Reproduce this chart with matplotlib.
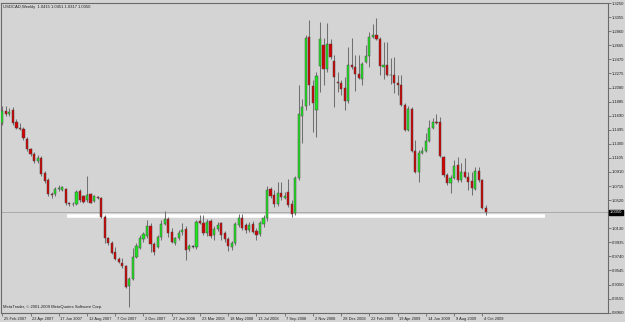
import matplotlib
matplotlib.use("Agg")
import matplotlib.pyplot as plt
import matplotlib.transforms as mtransforms
import numpy as np

TITLE = "USDCAD,Weekly  1.0415 1.0451 1.0317 1.0350"
COPYRIGHT = "MetaTrader, \u00a9 2001-2009 MetaQuotes Software Corp."

# weekly bars, 25 Feb 2007 .. 11 Oct 2009
OPEN = [
    1.1582, 1.1752, 1.1720, 1.1775, 1.1604, 1.1513, 1.1499, 1.1361, 1.1222, 1.1157,
    1.1065, 1.1098, 1.0890, 1.0798, 1.0600, 1.0604, 1.0673, 1.0659, 1.0680, 1.0475,
    1.0470, 1.0466, 1.0646, 1.0576, 1.0521, 1.0604, 1.0511, 1.0567, 1.0545, 1.0290,
    0.9991, 0.9922, 0.9798, 0.9705, 0.9654, 0.9608, 0.9336, 0.9424, 0.9737, 0.9861,
    0.9982, 1.0027, 1.0166, 0.9913, 0.9875, 1.0005, 1.0189, 1.0254, 1.0083, 0.9922,
    0.9991, 1.0074, 1.0120, 0.9848, 0.9878, 0.9867, 1.0235, 1.0203, 1.0069, 1.0231,
    1.0037, 1.0120, 1.0199, 1.0061, 0.9978, 0.9867, 0.9931, 1.0175, 1.0276, 1.0175,
    1.0106, 1.0185, 1.0096, 1.0051, 1.0189, 1.0272, 1.0673, 1.0590, 1.0466, 1.0618,
    1.0553, 1.0628, 1.0466, 1.0337, 1.0821, 1.1683, 1.1821, 1.2779, 1.2098, 1.1766,
    1.2378, 1.2665, 1.2342, 1.2688, 1.2448, 1.2153, 1.2149, 1.2070, 1.1894, 1.2388,
    1.2360, 1.2273, 1.2204, 1.2434, 1.2517, 1.2779, 1.2813, 1.2757, 1.2370, 1.2388,
    1.2259, 1.2259, 1.2149, 1.2121, 1.1835, 1.1489, 1.1789, 1.1199, 1.0912, 1.1175,
    1.1203, 1.1341, 1.1526, 1.1604, 1.1596, 1.1120, 1.0867, 1.0752, 1.0829, 1.1005,
    1.0798, 1.0908, 1.0843, 1.0784, 1.0673, 1.0922, 1.0798, 1.0415,
]
HIGH = [
    1.1821, 1.1821, 1.1793, 1.1807, 1.1641, 1.1586, 1.1531, 1.1392, 1.1240, 1.1185,
    1.1143, 1.1130, 1.0922, 1.0825, 1.0636, 1.0701, 1.0728, 1.0722, 1.0694, 1.0500,
    1.0493, 1.0659, 1.0669, 1.0597, 1.0853, 1.0625, 1.0594, 1.0583, 1.0567, 1.0307,
    1.0013, 0.9954, 0.9875, 0.9733, 0.9715, 0.9622, 0.9456, 0.9853, 0.9922, 1.0037,
    1.0083, 1.0244, 1.0199, 0.9944, 1.0037, 1.0244, 1.0369, 1.0290, 1.0130, 1.0013,
    1.0106, 1.0199, 1.0166, 0.9913, 0.9899, 1.0244, 1.0314, 1.0314, 1.0258, 1.0258,
    1.0161, 1.0217, 1.0217, 1.0092, 1.0009, 0.9954, 1.0217, 1.0327, 1.0327, 1.0203,
    1.0217, 1.0231, 1.0134, 1.0231, 1.0314, 1.0715, 1.0705, 1.0659, 1.0770, 1.0770,
    1.0632, 1.0811, 1.0521, 1.0853, 1.2111, 1.1918, 1.2810, 1.3010, 1.2181, 1.2291,
    1.2987, 1.2766, 1.2975, 1.2757, 1.2526, 1.2291, 1.2181, 1.2222, 1.2641, 1.2766,
    1.2526, 1.2526, 1.2430, 1.2665, 1.2849, 1.2965, 1.3048, 1.2775, 1.2710, 1.2706,
    1.2485, 1.2503, 1.2250, 1.2250, 1.1862, 1.1821, 1.1814, 1.1351, 1.1213, 1.1254,
    1.1448, 1.1627, 1.1655, 1.1720, 1.1669, 1.1130, 1.0894, 1.0867, 1.1074, 1.1120,
    1.1033, 1.1098, 1.0912, 1.0912, 1.0982, 1.0982, 1.0818, 1.0451,
]
LOW = [
    1.1558, 1.1683, 1.1683, 1.1558, 1.1503, 1.1489, 1.1351, 1.1203, 1.1130, 1.1037,
    1.1033, 1.0853, 1.0756, 1.0583, 1.0545, 1.0576, 1.0646, 1.0646, 1.0452, 1.0438,
    1.0442, 1.0452, 1.0500, 1.0480, 1.0493, 1.0473, 1.0500, 1.0531, 1.0268, 0.9926,
    0.9899, 0.9774, 0.9691, 0.9643, 0.9576, 0.9300, 0.9045, 0.9415, 0.9715, 0.9843,
    0.9944, 0.9991, 0.9806, 0.9760, 0.9853, 0.9968, 1.0168, 1.0013, 0.9922, 0.9899,
    0.9968, 1.0037, 0.9691, 0.9816, 0.9857, 0.9843, 1.0182, 1.0037, 1.0023, 0.9996,
    0.9968, 1.0092, 0.9968, 0.9940, 0.9816, 0.9830, 0.9899, 1.0148, 1.0106, 1.0065,
    1.0078, 1.0065, 0.9968, 1.0023, 1.0148, 1.0231, 1.0545, 1.0424, 1.0438, 1.0521,
    1.0535, 1.0424, 1.0286, 1.0314, 1.0805, 1.1309, 1.1766, 1.1835, 1.1461, 1.1392,
    1.2015, 1.2111, 1.2291, 1.2481, 1.1807, 1.2015, 1.1973, 1.1766, 1.1862, 1.2340,
    1.2029, 1.2194, 1.2111, 1.2416, 1.2365, 1.2761, 1.2734, 1.2250, 1.2204, 1.2236,
    1.2125, 1.2001, 1.1973, 1.1821, 1.1475, 1.1475, 1.1185, 1.0894, 1.0774, 1.1157,
    1.1185, 1.1323, 1.1503, 1.1572, 1.1116, 1.0839, 1.0728, 1.0622, 1.0811, 1.0770,
    1.0777, 1.0825, 1.0659, 1.0590, 1.0659, 1.0770, 1.0390, 1.0317,
]
CLOSE = [
    1.1756, 1.1720, 1.1748, 1.1590, 1.1526, 1.1503, 1.1374, 1.1222, 1.1157, 1.1065,
    1.1098, 1.0881, 1.0788, 1.0604, 1.0590, 1.0673, 1.0687, 1.0697, 1.0475, 1.0466,
    1.0461, 1.0636, 1.0521, 1.0493, 1.0586, 1.0484, 1.0576, 1.0549, 1.0282, 1.0000,
    0.9922, 0.9792, 0.9705, 0.9659, 0.9608, 0.9322, 0.9424, 0.9737, 0.9889, 1.0000,
    1.0047, 1.0166, 0.9913, 0.9806, 1.0005, 1.0189, 1.0254, 1.0061, 0.9933, 0.9991,
    1.0069, 1.0106, 0.9830, 0.9885, 0.9872, 1.0221, 1.0199, 1.0069, 1.0221, 1.0023,
    1.0116, 1.0179, 1.0037, 0.9978, 0.9885, 0.9922, 1.0185, 1.0276, 1.0138, 1.0106,
    1.0175, 1.0083, 1.0037, 1.0199, 1.0272, 1.0659, 1.0581, 1.0461, 1.0622, 1.0569,
    1.0581, 1.0452, 1.0323, 1.0821, 1.1720, 1.1811, 1.2771, 1.2121, 1.1867, 1.2240,
    1.2757, 1.2342, 1.2688, 1.2503, 1.2226, 1.2145, 1.2066, 1.1894, 1.2388, 1.2360,
    1.2273, 1.2218, 1.2412, 1.2513, 1.2779, 1.2813, 1.2757, 1.2374, 1.2398, 1.2259,
    1.2255, 1.2143, 1.2121, 1.1835, 1.1489, 1.1789, 1.1199, 1.0912, 1.1175, 1.1203,
    1.1341, 1.1526, 1.1604, 1.1590, 1.1130, 1.0867, 1.0752, 1.0829, 1.0995, 1.0798,
    1.0912, 1.0846, 1.0774, 1.0683, 1.0926, 1.0798, 1.0406, 1.0350,
]

DATE_LABELS = ["25 Feb 2007", "22 Apr 2007", "17 Jun 2007", "12 Aug 2007", "7 Oct 2007",
               "2 Dec 2007", "27 Jan 2008", "23 Mar 2008", "18 May 2008", "13 Jul 2008",
               "7 Sep 2008", "2 Nov 2008", "28 Dec 2008", "22 Feb 2009", "19 Apr 2009",
               "14 Jun 2009", "9 Aug 2009", "4 Oct 2009"]
DATE_STEP = 8  # one label every 8 weeks

PRICE_TICKS = [1.3250, 1.3055, 1.2860, 1.2665, 1.2470, 1.2275, 1.2080, 1.1885, 1.1690,
               1.1495, 1.1300, 1.1105, 1.0910, 1.0715, 1.0520, 1.0130, 0.9935, 0.9740,
               0.9545, 0.9350, 0.9155, 0.8960]
LAST_PRICE = 1.0350
SUPPORT = 1.0303            # hand-drawn white line
SUPPORT_SPAN = (18.3, 153.7)  # in bar units

BG = "#D4D4D4"; FRAME = "#6A6A6A"; INK = "#1E1E1E"
C_UP = "#1EE61E"; C_DN = "#D40000"; WICK = "#707070"; EDGE = "#4A4A4A"

plt.rcParams["font.family"] = ["Liberation Sans", "DejaVu Sans"]

W, H = 625, 322
fig = plt.figure(figsize=(W / 100, H / 100), dpi=100, facecolor=BG)
ax = fig.add_axes([1 / W, (H - 313) / H, 607 / W, 310 / H])
ax.set_facecolor(BG)

o, h, l, c = (np.array(a) for a in (OPEN, HIGH, LOW, CLOSE))
x = np.arange(len(o))
up = c >= o
doji = np.abs(c - o) < 0.0008
cols = np.where(doji, "#303030", np.where(up, C_UP, C_DN))

# bid line + support line
ax.axhline(LAST_PRICE, color="#A4A4A4", lw=0.6, zorder=1)
ax.plot(SUPPORT_SPAN, [SUPPORT, SUPPORT], color="white", lw=2.6, solid_capstyle="butt", zorder=1.5)

ax.vlines(x, l, h, color=WICK, lw=0.75, zorder=2)
ax.bar(x, np.maximum(np.abs(c - o), 0.0005), bottom=np.minimum(o, c), width=0.62,
       color=cols, edgecolor=EDGE, linewidth=0.35, zorder=3)

ax.set_xlim(-0.37, 171.6)
ax.set_ylim(0.8955, 1.3252)

for s in ax.spines.values():
    s.set_color(FRAME)
    s.set_linewidth(0.8)

ax.yaxis.tick_right()
ax.set_yticks(PRICE_TICKS)
ax.set_yticklabels([f"{v:.4f}" for v in PRICE_TICKS])
ax.tick_params(axis="y", length=2.2, width=0.6, color=FRAME, pad=0.8, labelsize=3.0, labelcolor=INK)

ax.set_xticks(np.arange(len(DATE_LABELS)) * DATE_STEP)
ax.set_xticklabels(DATE_LABELS, ha="left")
ax.tick_params(axis="x", length=2.2, width=0.6, color=FRAME, pad=0.8, labelsize=2.9, labelcolor=INK)
shift = mtransforms.ScaledTranslation(1.2 / 72, 0, fig.dpi_scale_trans)
for t in ax.get_xticklabels():
    t.set_transform(t.get_transform() + shift)

# last price marker on the axis
ax.text(1.0035, LAST_PRICE, f"{LAST_PRICE:.4f}", transform=ax.get_yaxis_transform(),
        ha="left", va="center", fontsize=3.0, color="white",
        bbox=dict(boxstyle="square,pad=0.2", fc="black", ec="black"))

ax.text(0.004, 0.993, TITLE, transform=ax.transAxes, ha="left", va="top", fontsize=3.0, color=INK)
ax.text(0.003, 0.012, COPYRIGHT, transform=ax.transAxes, ha="left", va="bottom", fontsize=3.0, color=INK)

fig.savefig("out.png", dpi=100, facecolor=BG)
